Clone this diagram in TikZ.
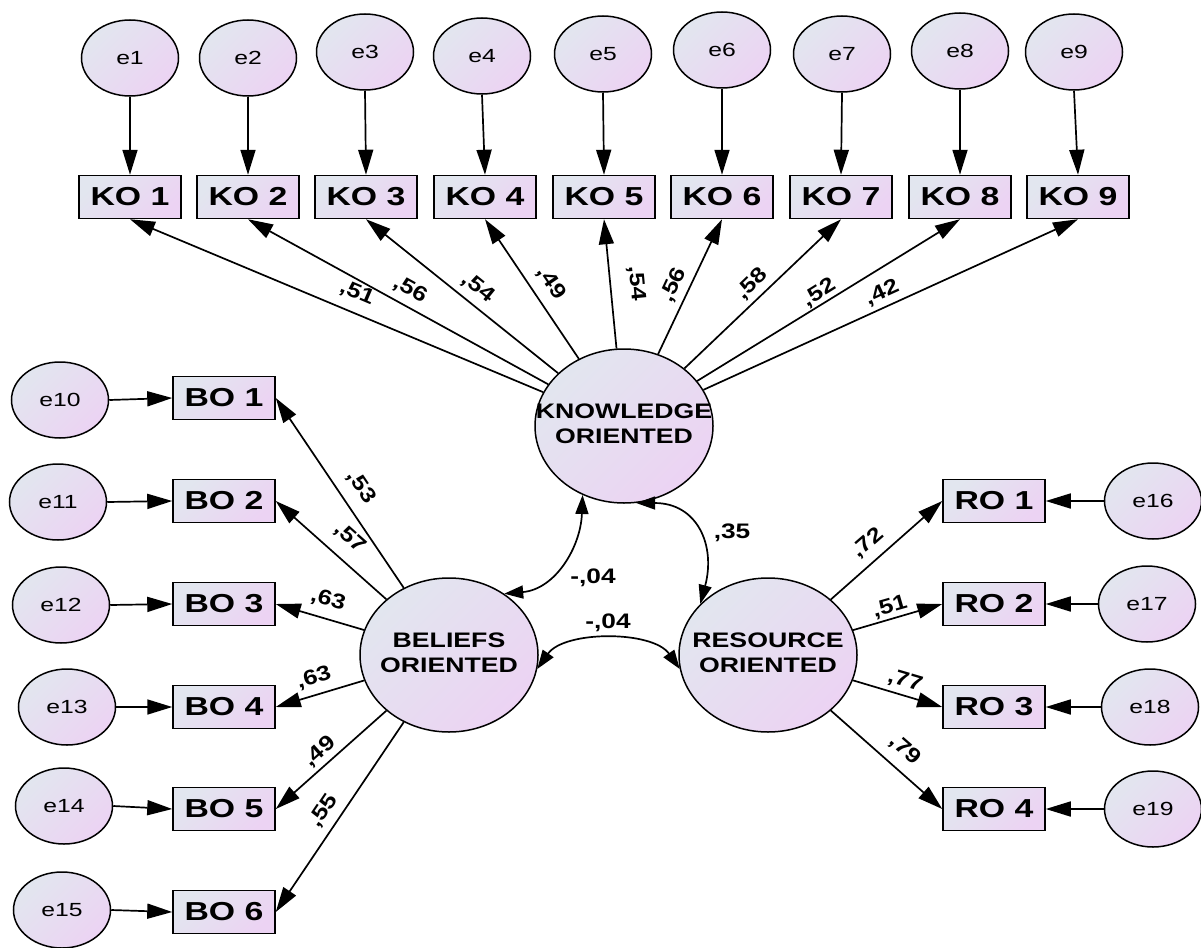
\documentclass[tikz,border=0pt]{standalone}
\usepackage{graphicx}
\usepackage{fontspec}
\setmainfont{Liberation Sans}
\usetikzlibrary{shapes.geometric,arrows.meta}
\definecolor{gtop}{RGB}{226,230,239}
\definecolor{gbot}{RGB}{236,211,243}
\newcommand{\stretchx}[2][1.3]{\scalebox{#1}[1]{#2}}
\tikzset{
  grad/.style={top color=gtop, bottom color=gbot, shading angle=45},
  err/.style={ellipse, draw, line width=1.5pt, grad, minimum width=97pt, minimum height=76pt, inner sep=0pt, font=\fontsize{19}{21}\selectfont},
  obs/.style={rectangle, draw, line width=1.5pt, grad, minimum width=102pt, minimum height=43pt, inner sep=0pt, font=\fontsize{26}{28}\selectfont\bfseries},
  lat/.style={ellipse, draw, line width=1.5pt, grad, minimum width=178pt, minimum height=154pt, inner sep=0pt},
  lattext/.style={inner sep=0pt, align=center, font=\fontsize{21}{25}\selectfont\bfseries},
  pth/.style={line width=1.7pt, -{Triangle[length=25pt,width=15pt]}},
  cov/.style={line width=1.7pt, {Triangle[length=19pt,width=13pt]}-{Triangle[length=19pt,width=13pt]}},
  lbl/.style={font=\fontsize{21}{23}\selectfont\bfseries, inner sep=0pt},
}
\begin{document}
\begin{tikzpicture}[x=1pt,y=1pt]
\path[use as bounding box, fill=white] (0,0) rectangle (1201,-947);

% latent variables
\node[lat] (K) at (624,-426) {};
\node[lattext] (Kt) at (K.center) {\stretchx[1.27]{\begin{tabular}{@{}c@{}}KNOWLEDGE\\ORIENTED\end{tabular}}};
\node[lat] (B) at (449,-655) {};
\node[lattext] (Bt) at (B.center) {\stretchx[1.27]{\begin{tabular}{@{}c@{}}BELIEFS\\ORIENTED\end{tabular}}};
\node[lat] (R) at (768,-655) {};
\node[lattext] (Rt) at (R.center) {\stretchx[1.27]{\begin{tabular}{@{}c@{}}RESOURCE\\ORIENTED\end{tabular}}};

% knowledge indicators
\foreach \i/\ex/\ey/\kx in {1/130/58/130, 2/248/58/248, 3/365/52/366, 4/482/56/485, 5/603/54/604, 6/722/50/722, 7/842/54/841, 8/960/51/960, 9/1074/52/1078}{
  \node[err] (e\i) at (\ex,-\ey) {\stretchx{e\i}};
  \node[obs] (KO\i) at (\kx,-197) {\stretchx{KO \i}};
  \draw[pth] (e\i.south) -- (KO\i.north);
  \draw[pth] (K) -- (KO\i.south);
}

% beliefs indicators
\foreach \i/\ex/\ey/\by [evaluate=\i as \en using int(\i+9)] in {1/60/400/398, 2/58/502/501, 3/61/605/604, 4/67/707/707, 5/64/806/809, 6/62/910/912}{
  \node[err] (e\en) at (\ex,-\ey) {\stretchx{e\en}};
  \node[obs] (BO\i) at (224,-\by) {\stretchx{BO \i}};
  \draw[pth] (e\en.east) -- (BO\i.west);
  \draw[pth] (B) -- (BO\i.east);
}

% resource indicators
\foreach \i/\ex/\ey/\ry [evaluate=\i as \en using int(\i+15)] in {1/1153/501/501, 2/1147/604/604, 3/1150/707/707, 4/1153/809/809}{
  \node[err] (e\en) at (\ex,-\ey) {\stretchx{e\en}};
  \node[obs] (RO\i) at (994,-\ry) {\stretchx{RO \i}};
  \draw[pth] (e\en.west) -- (RO\i.east);
  \draw[pth] (R) -- (RO\i.west);
}

% covariances
\draw[cov] (K.239) to[out=-92, in=5, looseness=1.05] (B.48);
\draw[cov] (K.279) to[out=0, in=75, looseness=1.3] (R.143);
\draw[cov] (B.-9) to[out=55, in=125, looseness=0.85] (R.189);

% loading labels
\foreach \x/\y/\r/\t in {357/293/-23/{,51}, 410/290/-29/{,56}, 478/288/-39/{,54}, 551/283/-56/{,49}, 636/283/-84.5/{,54}, 674/285/65/{,56}, 752/284/44/{,58}, 819/293/32/{,52}, 882/293/24.5/{,42},
  361/487/-56/{,53}, 350/538/-41.5/{,57}, 328/600/-16/{,63}, 314/678/16.6/{,63}, 320/752/41.5/{,49}, 324/811/56/{,55},
  868/543/41/{,72}, 890/607/16/{,51}, 905/681/-16.5/{,77}, 905/750/-41/{,79}}{
  \node[lbl, rotate=\r] at (\x,-\y) {\stretchx[1.2]{\t}};
}
\node[lbl] (c1) at (732,-533) {\stretchx[1.25]{,35}};
\node[lbl] (c2) at (593,-578) {\stretchx[1.25]{-,04}};
\node[lbl] (c3) at (608,-623) {\stretchx[1.25]{-,04}};
\end{tikzpicture}
\end{document}
